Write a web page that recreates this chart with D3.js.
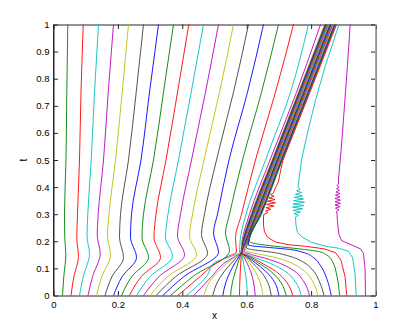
<!DOCTYPE html>
<html><head><meta charset="utf-8">
<script src="https://cdn.jsdelivr.net/npm/d3@7"></script>
<style>html,body{margin:0;padding:0;background:#fff}</style>
</head><body>
<svg id="chart" width="415" height="333"></svg>
<script>
// MATLAB classic colour order: b g r c m y k
const colorOrder = ["#0000ff", "#008000", "#ff0000", "#00bfbf", "#bf00bf", "#bfbf00", "#404040"];
const xTickValues = [0, 0.2, 0.4, 0.6, 0.8, 1];
const xTickLabels = ["0", "0.2", "0.4", "0.6", "0.8", "1"];
const tTickValues = [0, 0.1, 0.2, 0.3, 0.4, 0.5, 0.6, 0.7, 0.8, 0.9, 1];
const tTickLabels = ["0", "0.1", "0.2", "0.3", "0.4", "0.5", "0.6", "0.7", "0.8", "0.9", "1"];
const xLabel = "x";
const tLabel = "t";

// trajectories [x, t], curves 0..18 (left family)
const leftPaths = [
  [[0,0],[0,1]],
  [[0.0280,0],[0.0320,0.07],[0.0382,0.15],[0.0348,0.22],[0.0342,0.3],[0.0388,0.5],[0.0413,0.75],[0.0444,1]],
  [[0.0543,0],[0.0634,0.07],[0.0776,0.145],[0.0724,0.21],[0.0745,0.3],[0.0807,0.5],[0.0854,0.75],[0.0922,1]],
  [[0.0807,0],[0.0925,0.07],[0.1118,0.155],[0.1040,0.22],[0.1065,0.3],[0.1171,0.5],[0.1273,0.75],[0.1398,1]],
  [[0.1071,0],[0.1214,0.07],[0.1450,0.155],[0.1357,0.225],[0.1388,0.3],[0.1553,0.5],[0.1699,0.75],[0.1863,1]],
  [[0.1335,0],[0.1500,0.07],[0.1770,0.15],[0.1677,0.22],[0.1724,0.3],[0.1925,0.5],[0.2134,0.75],[0.2329,1]],
  [[0.1599,0],[0.1817,0.07],[0.2174,0.14],[0.2050,0.215],[0.2081,0.3],[0.2329,0.5],[0.2568,0.75],[0.2795,1]],
  [[0.1863,0],[0.2134,0.07],[0.2578,0.14],[0.2391,0.215],[0.2422,0.3],[0.2717,0.5],[0.2981,0.75],[0.3261,1]],
  [[0.2112,0],[0.2432,0.07],[0.2950,0.14],[0.2748,0.215],[0.2795,0.3],[0.3106,0.5],[0.3416,0.75],[0.3727,1]],
  [[0.2360,0],[0.2727,0.07],[0.3323,0.14],[0.3121,0.215],[0.3183,0.3],[0.3494,0.5],[0.3851,0.75],[0.4202,1]],
  [[0.2578,0],[0.3003,0.07],[0.3696,0.145],[0.3478,0.215],[0.3556,0.3],[0.3882,0.5],[0.4276,0.75],[0.4658,1]],
  [[0.2795,0],[0.3280,0.07],[0.4068,0.15],[0.3851,0.22],[0.3944,0.3],[0.4286,0.5],[0.4720,0.75],[0.5124,1]],
  [[0.2997,0],[0.3547,0.07],[0.4441,0.15],[0.4224,0.22],[0.4317,0.3],[0.4674,0.5],[0.5155,0.75],[0.5590,1]],
  [[0.3189,0],[0.3795,0.07],[0.4783,0.155],[0.4596,0.225],[0.4689,0.3],[0.5062,0.5],[0.5590,0.75],[0.6056,1]],
  [[0.3394,0],[0.4053,0.07],[0.5124,0.16],[0.4969,0.23],[0.5093,0.3],[0.5450,0.5],[0.6025,0.75],[0.6522,1]],
  [[0.3634,0],[0.4329,0.07],[0.5466,0.165],[0.5342,0.23],[0.5466,0.3],[0.5870,0.5],[0.6460,0.75],[0.6988,1]],
  [[0.3860,0],[0.4553,0.07],[0.5062,0.12],[0.5435,0.145],[0.5683,0.16],[0.5652,0.21],[0.5839,0.3],[0.6273,0.5],[0.6894,0.75],[0.7453,1]],
  [[0.4121,0],[0.4752,0.07],[0.4984,0.12],[0.5528,0.145],[0.5776,0.158],[0.5792,0.2],[0.5978,0.3],[0.6584,0.5],[0.7360,0.75],[0.7919,1]],
  [[0.4357,0],[0.4913,0.07],[0.5311,0.12],[0.5652,0.145],[0.5823,0.157],[0.5854,0.2],[0.6087,0.3],[0.6724,0.5],[0.7547,0.75],[0.8292,1]]
];

// curves 19..37: converge at the focal point and travel in the dense band
const bundlePaths = [
  [[0.4668,0],[0.4845,0.05],[0.5124,0.09],[0.5404,0.12],[0.5683,0.145],[0.5823,0.157],[0.5870,0.2],[0.6134,0.3],[0.6786,0.5],[0.7602,0.75],[0.8416,1]],
  [[0.4947,0],[0.5093,0.05],[0.5311,0.09],[0.5528,0.12],[0.5730,0.145],[0.5826,0.157],[0.5882,0.2],[0.6153,0.3],[0.6805,0.5],[0.7622,0.75],[0.8437,1]],
  [[0.5258,0],[0.5357,0.05],[0.5497,0.09],[0.5637,0.12],[0.5770,0.145],[0.5829,0.157],[0.5894,0.2],[0.6172,0.3],[0.6824,0.5],[0.7642,0.75],[0.8457,1]],
  [[0.5497,0],[0.5559,0.05],[0.5652,0.09],[0.5730,0.12],[0.5801,0.145],[0.5832,0.157],[0.5906,0.2],[0.6191,0.3],[0.6843,0.5],[0.7662,0.75],[0.8478,1]],
  [[0.5776,0],[0.5786,0.05],[0.5801,0.09],[0.5817,0.12],[0.5829,0.145],[0.5835,0.157],[0.5918,0.2],[0.6210,0.3],[0.6862,0.5],[0.7682,0.75],[0.8499,1]],
  [[0.6016,0],[0.5994,0.05],[0.5947,0.09],[0.5901,0.12],[0.5860,0.145],[0.5839,0.157],[0.5930,0.2],[0.6229,0.3],[0.6881,0.5],[0.7702,0.75],[0.8520,1]],
  [[0.6264,0],[0.6211,0.05],[0.6118,0.09],[0.6009,0.12],[0.5901,0.145],[0.5842,0.157],[0.5942,0.2],[0.6248,0.3],[0.6900,0.5],[0.7722,0.75],[0.8540,1]],
  [[0.6500,0],[0.6413,0.05],[0.6258,0.09],[0.6087,0.12],[0.5932,0.145],[0.5845,0.157],[0.5954,0.2],[0.6267,0.3],[0.6919,0.5],[0.7742,0.75],[0.8561,1]],
  [[0.6761,0],[0.6646,0.05],[0.6429,0.09],[0.6180,0.12],[0.5963,0.145],[0.5848,0.157],[0.5966,0.2],[0.6286,0.3],[0.6938,0.5],[0.7762,0.75],[0.8582,1]],
  [[0.6997,0],[0.6863,0.05],[0.6584,0.09],[0.6273,0.12],[0.5994,0.145],[0.5851,0.157],[0.5978,0.2],[0.6304,0.3],[0.6957,0.5],[0.7783,0.75],[0.8602,1]],
  [[0.7227,0],[0.7050,0.05],[0.6739,0.09],[0.6366,0.12],[0.6040,0.145],[0.5854,0.157],[0.5990,0.2],[0.6323,0.3],[0.6976,0.5],[0.7803,0.75],[0.8623,1]],
  [[0.7432,0],[0.7236,0.05],[0.6894,0.09],[0.6460,0.12],[0.6087,0.145],[0.5857,0.157],[0.6002,0.2],[0.6342,0.3],[0.6995,0.5],[0.7822,0.75],[0.8644,1]],
  [[0.7693,0],[0.7516,0.05],[0.7189,0.09],[0.6739,0.118],[0.6304,0.138],[0.5994,0.152],[0.5885,0.16],[0.6014,0.2],[0.6361,0.3],[0.7014,0.5],[0.7843,0.75],[0.8665,1]],
  [[0.7950,0],[0.7780,0.05],[0.7484,0.09],[0.7050,0.118],[0.6584,0.137],[0.6149,0.151],[0.5932,0.162],[0.6027,0.2],[0.6380,0.3],[0.7033,0.5],[0.7862,0.75],[0.8685,1]],
  [[0.8208,0],[0.8059,0.05],[0.7795,0.09],[0.7422,0.118],[0.6957,0.138],[0.6460,0.151],[0.6087,0.16],[0.5947,0.167],[0.6039,0.2],[0.6399,0.3],[0.7052,0.5],[0.7883,0.75],[0.8706,1]],
  [[0.8401,0],[0.8261,0.05],[0.8043,0.095],[0.7733,0.125],[0.7329,0.145],[0.6770,0.16],[0.6242,0.168],[0.5994,0.175],[0.6051,0.2],[0.6418,0.3],[0.7071,0.5],[0.7902,0.75],[0.8727,1]],
  [[0.8624,0],[0.8494,0.06],[0.8292,0.11],[0.8075,0.14],[0.7733,0.16],[0.7329,0.17],[0.6708,0.177],[0.6242,0.182],[0.6056,0.186],[0.6063,0.2],[0.6437,0.3],[0.7090,0.5],[0.7922,0.75],[0.8747,1]],
  [[0.8882,0],[0.8804,0.07],[0.8665,0.125],[0.8478,0.15],[0.8199,0.163],[0.7640,0.172],[0.6863,0.182],[0.6335,0.19],[0.6075,0.2],[0.6456,0.3],[0.7109,0.5],[0.7942,0.75],[0.8768,1]],
  [[0.9109,0],[0.9053,0.07],[0.8929,0.13],[0.8758,0.158],[0.8416,0.172],[0.7795,0.182],[0.7329,0.187],[0.6894,0.197],[0.6646,0.215],[0.6553,0.235],[0.6522,0.26],[0.6522,0.29],
   [0.6537,0.300],[0.6661,0.306],[0.6584,0.312],[0.6755,0.318],[0.6599,0.324],[0.6848,0.330],[0.6615,0.336],[0.6894,0.342],[0.6646,0.348],[0.6879,0.354],[0.6693,0.360],[0.6848,0.366],[0.6739,0.372],[0.6832,0.378],
   [0.6863,0.39],[0.6988,0.42],[0.7034,0.45],[0.7127,0.5],[0.7963,0.75],[0.8789,1]]
];

// curves 38..40 (right edge)
const rightPaths = [
  [[0.9401,0],[0.9363,0.08],[0.9286,0.14],[0.9161,0.163],[0.8882,0.174],[0.8478,0.181],[0.8012,0.196],[0.7733,0.215],[0.7578,0.232],[0.7531,0.26],[0.7516,0.29],
   [0.7609,0.296],[0.7469,0.302],[0.7671,0.308],[0.7438,0.314],[0.7733,0.320],[0.7422,0.326],[0.7780,0.332],[0.7438,0.338],[0.7795,0.344],[0.7453,0.350],[0.7764,0.356],[0.7484,0.362],[0.7733,0.368],[0.7516,0.374],[0.7702,0.380],[0.7547,0.386],[0.7655,0.392],[0.7593,0.400],
   [0.7624,0.43],[0.7702,0.5],[0.7888,0.6],[0.8137,0.72],[0.8447,0.85],[0.8866,1]],
  [[0.9689,0],[0.9674,0.1],[0.9627,0.155],[0.9534,0.172],[0.9193,0.19],[0.8944,0.203],[0.8866,0.225],[0.8820,0.27],[0.8804,0.3],
   [0.8789,0.310],[0.8866,0.316],[0.8758,0.322],[0.8898,0.328],[0.8742,0.334],[0.8913,0.340],[0.8742,0.346],[0.8913,0.352],[0.8742,0.358],[0.8898,0.364],[0.8758,0.370],[0.8898,0.376],[0.8773,0.382],[0.8882,0.388],[0.8789,0.394],[0.8866,0.400],[0.8804,0.406],[0.8851,0.412],
   [0.8851,0.43],[0.8935,0.54],[0.9037,0.7],[0.9130,0.85],[0.9214,1]],
  [[1,0],[1,1]]
];

const allPaths = leftPaths.concat(bundlePaths, rightPaths);

const svg = d3.select("#chart");
svg.append("rect").attr("width", 415).attr("height", 333).attr("fill", "#ffffff");

const x = d3.scaleLinear().domain([0, 1]).range([53.5, 375.5]);
const y = d3.scaleLinear().domain([0, 1]).range([295.5, 24.5]);

const font = "'Liberation Sans', Arial, Helvetica, sans-serif";
const axisColor = "#262626";

function styleAxis(g) {
  g.select(".domain").attr("stroke", axisColor).attr("stroke-width", 1);
  g.selectAll(".tick line").attr("stroke", axisColor).attr("stroke-width", 1);
  g.selectAll(".tick text").attr("fill", "#000").style("font-family", font).style("font-size", "9.5px");
}

svg.append("g").attr("transform", "translate(0,295.5)")
  .call(d3.axisBottom(x).tickValues(xTickValues).tickFormat((d, i) => xTickLabels[i]).tickSizeInner(-4.5).tickSizeOuter(0).tickPadding(6))
  .call(styleAxis);
svg.append("g").attr("transform", "translate(0,24.5)")
  .call(d3.axisTop(x).tickValues(xTickValues).tickFormat("").tickSizeInner(-4.5).tickSizeOuter(0))
  .call(styleAxis);
svg.append("g").attr("transform", "translate(53.5,0)")
  .call(d3.axisLeft(y).tickValues(tTickValues).tickFormat((d, i) => tTickLabels[i]).tickSizeInner(-4.5).tickSizeOuter(0).tickPadding(4))
  .call(styleAxis);
svg.append("g").attr("transform", "translate(375.5,0)")
  .call(d3.axisRight(y).tickValues(tTickValues).tickFormat("").tickSizeInner(-4.5).tickSizeOuter(0))
  .call(styleAxis);

// smooth curves for the ordinary trajectories, straight segments for the jagged ones
const smoothLine = d3.line().x(d => x(d[0])).y(d => y(d[1])).curve(d3.curveMonotoneY);
const jaggedLine = d3.line().x(d => x(d[0])).y(d => y(d[1])).curve(d3.curveLinear);

svg.append("g").selectAll("path").data(allPaths).join("path")
  .attr("d", d => (d.length > 20 ? jaggedLine(d) : smoothLine(d)))
  .attr("fill", "none")
  .attr("stroke", (d, i) => colorOrder[i % colorOrder.length])
  .attr("stroke-width", 0.9)
  .attr("stroke-linejoin", "round");

svg.append("text").attr("x", 214.5).attr("y", 318.5).attr("text-anchor", "middle")
  .style("font-family", font).style("font-size", "10px").text(xLabel);
svg.append("text").attr("transform", "translate(26.5,160) rotate(-90)").attr("text-anchor", "middle")
  .style("font-family", font).style("font-size", "10px").text(tLabel);
</script>
</body></html>
